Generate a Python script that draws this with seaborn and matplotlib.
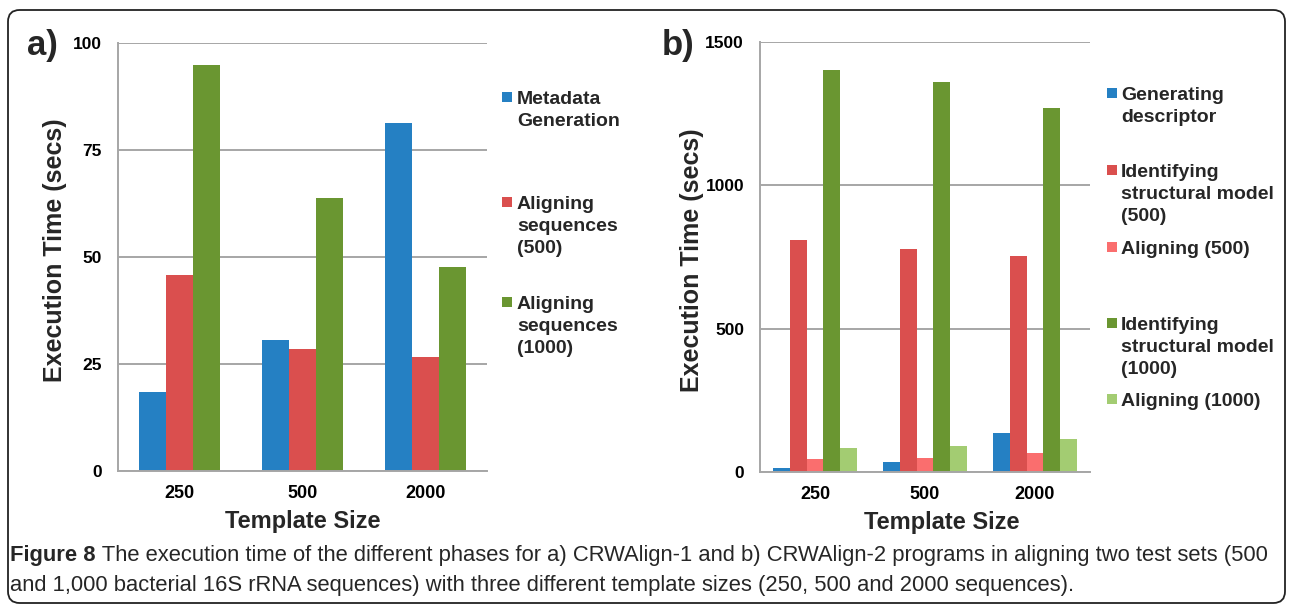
import matplotlib
matplotlib.use("Agg")
import matplotlib.pyplot as plt
from matplotlib.patches import Rectangle, FancyBboxPatch
import seaborn as sns
import pandas as pd

# ---------------- data ----------------
sizes = ["250", "500", "2000"]

a_series = ["Metadata\nGeneration", "Aligning\nsequences\n(500)", "Aligning\nsequences\n(1000)"]
a_metadata = [18.5, 30.6, 81.2]
a_align500 = [45.8, 28.6, 26.6]
a_align1000 = [94.8, 63.9, 47.6]
a_colors = ["#2580C3", "#DA4F4E", "#6A9631"]

b_series = ["Generating\ndescriptor", "Identifying\nstructural model\n(500)", "Aligning (500)",
            "Identifying\nstructural model\n(1000)", "Aligning (1000)"]
b_descriptor = [15, 34, 137]
b_ident500 = [810, 778, 755]
b_align500 = [44, 49, 68]
b_ident1000 = [1402, 1362, 1269]
b_align1000 = [82, 91, 116]
b_colors = ["#2580C3", "#DA4F4E", "#FA6E6E", "#6A9631", "#A3CC72"]

a_yticks = [0, 25, 50, 75, 100]
b_yticks = [0, 500, 1000, 1500]

caption_bold = "Figure 8"
caption_line1 = (" The execution time of the different phases for a) CRWAlign-1 and b) CRWAlign-2 "
                 "programs in aligning two test sets (500")
caption_line2 = ("and 1,000 bacterial 16S rRNA sequences) with three different template sizes "
                 "(250, 500 and 2000 sequences).")

# ---------------- frames ----------------
df_a = pd.DataFrame({
    "size": sizes * 3,
    "series": [a_series[0]] * 3 + [a_series[1]] * 3 + [a_series[2]] * 3,
    "value": a_metadata + a_align500 + a_align1000,
})
df_b = pd.DataFrame({
    "size": sizes * 5,
    "series": sum([[s] * 3 for s in b_series], []),
    "value": b_descriptor + b_ident500 + b_align500 + b_ident1000 + b_align1000,
})

sns.set_style("white")
plt.rcParams["font.family"] = ["Liberation Sans", "DejaVu Sans"]

W, H = 1290, 605
fig = plt.figure(figsize=(W / 100, H / 100), dpi=100)

GRID = "#A6A6A6"


def style_axes(ax, yticks, ylim, ylabel_xy, xlabel_xy):
    ax.set_ylim(*ylim)
    ax.set_yticks(yticks)
    ax.set_yticklabels([str(t) for t in yticks], fontweight="bold", fontsize=12.5)
    ax.set_xticks(range(len(sizes)))
    ax.set_xticklabels(sizes, fontweight="bold", fontsize=13)
    ax.yaxis.grid(True, color=GRID, lw=1.4)
    ax.xaxis.grid(False)
    ax.set_axisbelow(True)
    for s in ["top", "right"]:
        ax.spines[s].set_visible(False)
    for s in ["left", "bottom"]:
        ax.spines[s].set_color(GRID)
        ax.spines[s].set_linewidth(1.4)
    ax.tick_params(axis="y", length=4.5, width=1.4, color=GRID, direction="out", pad=7, labelcolor="black")
    ax.tick_params(axis="x", length=0, pad=10, labelcolor="black")
    ax.set_ylabel("Execution Time (secs)", fontsize=18, fontweight="bold")
    ax.yaxis.set_label_coords(*ylabel_xy)
    ax.set_xlabel("Template Size", fontsize=17, fontweight="bold")
    ax.xaxis.set_label_coords(*xlabel_xy)


# ---------------- panel a ----------------
ax1 = fig.add_axes([118 / W, 1 - 471 / H, 369 / W, 428 / H])
sns.barplot(data=df_a, x="size", y="value", hue="series", order=sizes, hue_order=a_series,
            palette=a_colors, saturation=1, width=0.66, linewidth=0, legend=False, ax=ax1)
ax1.set_xlim(-0.5, 2.5)
style_axes(ax1, a_yticks, (0, 100), (-0.139, 0.516), (0.501, -0.091))

# ---------------- panel b ----------------
ax2 = fig.add_axes([760 / W, 1 - 472 / H, 330 / W, 430 / H])
sns.barplot(data=df_b, x="size", y="value", hue="series", order=sizes, hue_order=b_series,
            palette=b_colors, saturation=1, width=0.76, linewidth=0, legend=False, ax=ax2)
ax2.set_xlim(-0.5, 2.5)
style_axes(ax2, b_yticks, (0, 1500), (-0.17, 0.493), (0.552, -0.091))

# ---------------- legends (manual, Excel style) ----------------
PITCH = 23.0


def draw_legend(labels, colors, sq_x, txt_x, first_line_y):
    for lab, col, y in zip(labels, colors, first_line_y):
        n = lab.count("\n") + 1
        fig.add_artist(Rectangle((sq_x / W, 1 - (y + 5) / H), 10 / W, 10 / H,
                                 transform=fig.transFigure, facecolor=col, edgecolor="none"))
        yc = y + (n - 1) * PITCH / 2 - (3 if n > 1 else 0)
        fig.text(txt_x / W, 1 - yc / H, lab, fontsize=14, fontweight="bold",
                 va="center_baseline", ha="left", linespacing=1.4)


draw_legend(a_series, a_colors, 502, 517, [97, 202, 302])
draw_legend(b_series, b_colors, 1107, 1121, [93, 170, 247, 323, 399])

# ---------------- panel letters ----------------
fig.text(27 / W, 1 - 46 / H, "a)", fontsize=25, fontweight="bold", va="center", ha="left")
fig.text(662 / W, 1 - 45 / H, "b)", fontsize=25, fontweight="bold", va="center", ha="left")

# ---------------- caption ----------------
CAP = 15.85
t_bold = fig.text(10 / W, 1 - 556 / H, caption_bold, fontsize=CAP, fontweight="bold",
                  va="center", ha="left")
ax2.annotate(caption_line1, xy=(1, 0), xycoords=t_bold, va="bottom", ha="left",
             fontsize=CAP, annotation_clip=False)
fig.text(10 / W, 1 - 585 / H, caption_line2, fontsize=CAP, va="center", ha="left")

# ---------------- border ----------------
fig.add_artist(FancyBboxPatch((8 / W, 1 - 603 / H), 1277 / W, 593 / H,
                              boxstyle="round,pad=0,rounding_size=0.009",
                              mutation_aspect=W / H, transform=fig.transFigure,
                              fill=False, edgecolor="#222222", linewidth=1.3))

fig.savefig("out.png", dpi=100)
